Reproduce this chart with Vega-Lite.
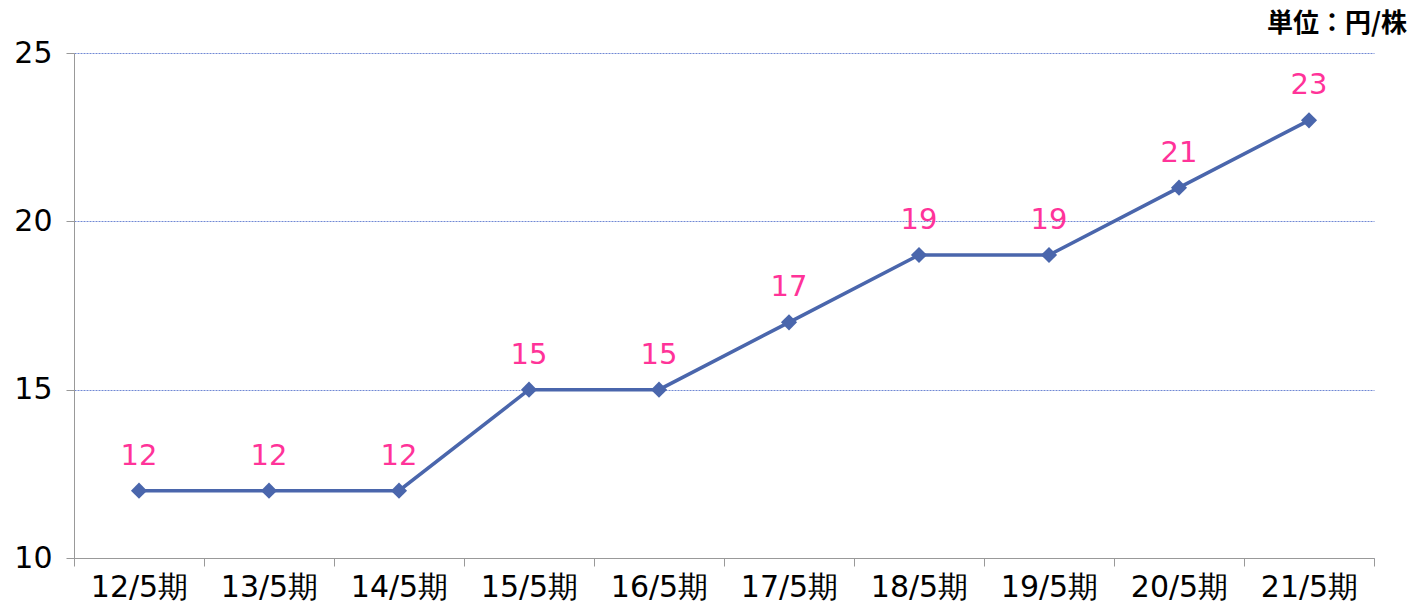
{
  "$schema": "https://vega.github.io/schema/vega-lite/v6.json",
  "autosize": "none",
  "width": 1300,
  "height": 505,
  "padding": {"left": 74, "top": 53, "right": 40, "bottom": 51},
  "background": "white",
  "config": {"view": {"stroke": null}},
  "title": {
    "text": "単位：円/株",
    "anchor": "end",
    "orient": "top",
    "frame": "group",
    "dx": 33,
    "offset": 1,
    "fontSize": 26,
    "fontWeight": "bold",
    "font": "Noto Sans CJK JP",
    "color": "#000000"
  },
  "data": {
    "values": [
      {"period": "12/5期", "dividend": 12},
      {"period": "13/5期", "dividend": 12},
      {"period": "14/5期", "dividend": 12},
      {"period": "15/5期", "dividend": 15},
      {"period": "16/5期", "dividend": 15},
      {"period": "17/5期", "dividend": 17},
      {"period": "18/5期", "dividend": 19},
      {"period": "19/5期", "dividend": 19},
      {"period": "20/5期", "dividend": 21},
      {"period": "21/5期", "dividend": 23}
    ]
  },
  "encoding": {
    "x": {
      "field": "period",
      "type": "ordinal",
      "sort": null,
      "bandPosition": 0.5,
      "scale": {"type": "band", "paddingInner": 0, "paddingOuter": 0},
      "axis": {
        "title": null,
        "labelAngle": 0,
        "tickBand": "extent",
        "domainColor": "#999999",
        "tickColor": "#999999",
        "tickSize": 8,
        "labelFontSize": 30,
        "labelFont": "DejaVu Sans",
        "labelColor": "#000000",
        "labelPadding": 6,
        "grid": false
      }
    },
    "y": {
      "field": "dividend",
      "type": "quantitative",
      "scale": {"domain": [10, 25], "nice": false, "zero": false},
      "axis": {
        "title": null,
        "values": [10, 15, 20, 25],
        "domainColor": "#999999",
        "tickColor": "#999999",
        "tickSize": 8,
        "labelFontSize": 30,
        "labelFont": "DejaVu Sans",
        "labelColor": "#000000",
        "labelPadding": 14,
        "grid": true,
        "gridColor": "#7088D4",
        "gridDash": [2, 1],
        "gridWidth": 1
      }
    }
  },
  "layer": [
    {"mark": {"type": "line", "color": "#4A66AC", "strokeWidth": 3.5}},
    {"mark": {"type": "point", "shape": "diamond", "filled": true, "color": "#4A66AC", "opacity": 1, "size": 260}},
    {
      "mark": {"type": "text", "color": "#FF3399", "fontSize": 29, "font": "DejaVu Sans", "baseline": "alphabetic", "dy": -26},
      "encoding": {"text": {"field": "dividend", "type": "quantitative"}}
    }
  ]
}
